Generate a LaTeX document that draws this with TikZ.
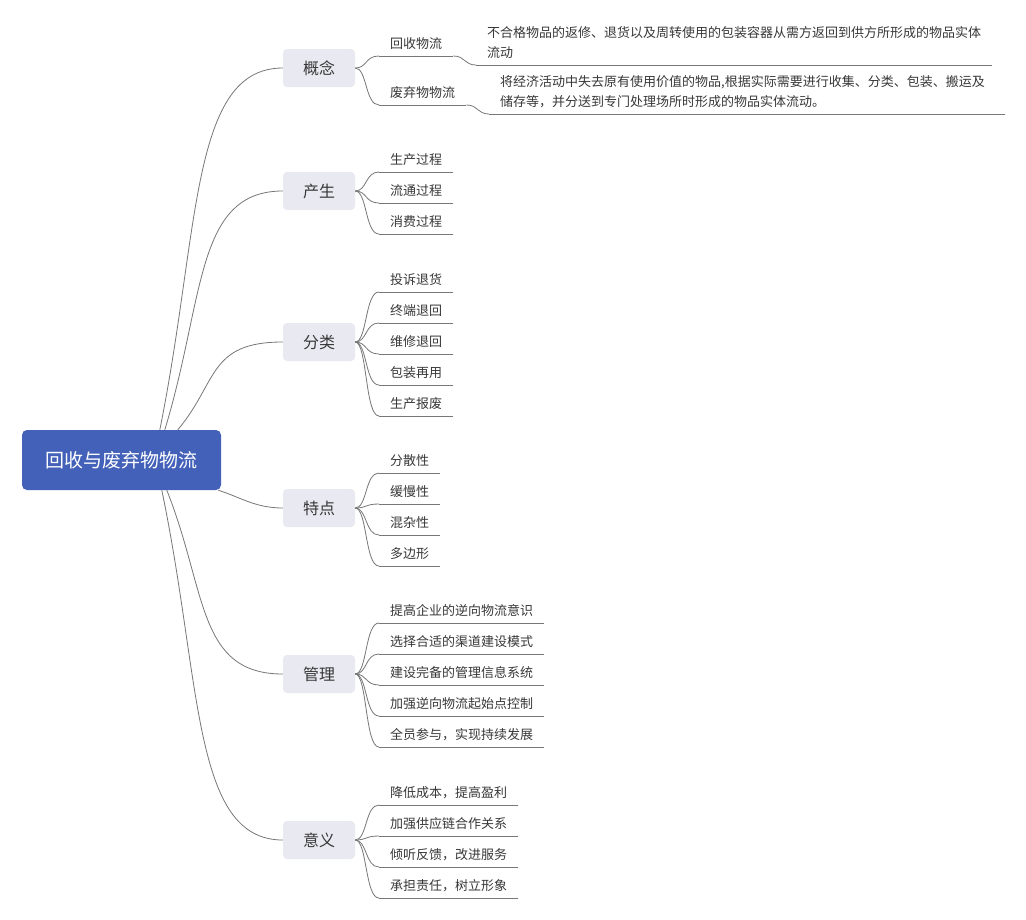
\documentclass[tikz,border=0pt]{standalone}
\usepackage{fontspec}
\newfontfamily\cjk{Noto Sans CJK SC}
\usetikzlibrary{backgrounds}
\definecolor{rootblue}{HTML}{4361B9}
\definecolor{branchbg}{HTML}{E9E9F1}
\definecolor{linegray}{HTML}{777777}
\definecolor{txt}{HTML}{383838}
\begin{document}
\begin{tikzpicture}[x=1pt,y=-1pt,
 rootnode/.style={fill=rootblue, rounded corners=5pt, minimum width=199pt, minimum height=60pt, text=white, font=\cjk\fontsize{19}{22}\selectfont, inner sep=0pt},
 branchnode/.style={fill=branchbg, rounded corners=4pt, minimum width=72pt, minimum height=38pt, text=txt, font=\cjk\fontsize{16}{20}\selectfont, inner sep=0pt},
 leafnode/.style={anchor=south west, inner xsep=11pt, inner ysep=7pt, text depth=0pt, text=txt, font=\cjk\fontsize{13}{20}\selectfont},
 descnode/.style={leafnode},
 conn/.style={draw=linegray, line width=0.8pt},
]
\useasboundingbox (0,0) rectangle (1026,919);

\node[rootnode] (root) at (121.5,460) {回收与废弃物物流};
\node[branchnode] (b1) at (319,68) {概念};
\node[branchnode] (b2) at (319,191) {产生};
\node[branchnode] (b3) at (319,342) {分类};
\node[branchnode] (b4) at (319,508) {特点};
\node[branchnode] (b5) at (319,674) {管理};
\node[branchnode] (b6) at (319,840) {意义};

\begin{scope}[on background layer]
\fill[white] (0,0) rectangle (1026,919);
\draw[conn] ([xshift=138pt]root.north west) .. controls (200,231) and (190,68) .. (b1.west);
\draw[conn] ([xshift=143pt]root.north west) .. controls (205,298) and (195,191) .. (b2.west);
\draw[conn] ([xshift=156pt]root.north west) .. controls (218,382) and (208,342) .. (b3.west);
\draw[conn] ([xshift=-3pt]root.south east) .. controls (240,497) and (255,508) .. (b4.west);
\draw[conn] ([xshift=145pt]root.south west) .. controls (207,591) and (197,674) .. (b5.west);
\draw[conn] ([xshift=140pt]root.south west) .. controls (202,683) and (192,840) .. (b6.west);
\end{scope}

% 概念
\node[leafnode] (a1) at (379,56) {回收物流};
\node[leafnode] (a2) at (379,105) {废弃物物流};
\draw[conn] (b1.east) .. controls +(12,0) and +(-14,0) .. (a1.south west);
\draw[conn] (b1.east) .. controls +(12,0) and +(-14,0) .. (a2.south west);
\draw[conn] (a1.south west) -- (a1.south east);
\draw[conn] (a2.south west) -- (a2.south east);
\node[descnode] (d1) at (476,65) {\parbox[b]{494pt}{\raggedright 不合格物品的返修、退货以及周转使用的包装容器从需方返回到供方所形成的物品实体\\流动}};
\node[descnode] (d2) at (489,114) {\parbox[b]{494pt}{\raggedright 将经济活动中失去原有使用价值的物品,根据实际需要进行收集、分类、包装、搬运及\\储存等，并分送到专门处理场所时形成的物品实体流动。}};
\draw[conn] (a1.south east) .. controls +(12,0) and +(-12,0) .. (d1.south west);
\draw[conn] (a2.south east) .. controls +(12,0) and +(-12,0) .. (d2.south west);
\draw[conn] (d1.south west) -- (d1.south east);
\draw[conn] (d2.south west) -- (d2.south east);

% 产生
\foreach \y/\t/\n in {172/生产过程/c1, 203/流通过程/c2, 234/消费过程/c3} {
  \node[leafnode] (\n) at (379,\y) {\t};
  \draw[conn] (b2.east) .. controls +(12,0) and +(-14,0) .. (\n.south west);
  \draw[conn] (\n.south west) -- (\n.south east);
}
% 分类
\foreach \y/\t/\n in {292/投诉退货/e1, 323/终端退回/e2, 354/维修退回/e3, 385/包装再用/e4, 416/生产报废/e5} {
  \node[leafnode] (\n) at (379,\y) {\t};
  \draw[conn] (b3.east) .. controls +(12,0) and +(-14,0) .. (\n.south west);
  \draw[conn] (\n.south west) -- (\n.south east);
}
% 特点
\foreach \y/\t/\n in {473/分散性/f1, 504/缓慢性/f2, 535/混杂性/f3, 566/多边形/f4} {
  \node[leafnode] (\n) at (379,\y) {\t};
  \draw[conn] (b4.east) .. controls +(12,0) and +(-14,0) .. (\n.south west);
  \draw[conn] (\n.south west) -- (\n.south east);
}
% 管理
\foreach \y/\t/\n in {623/提高企业的逆向物流意识/g1, 654/选择合适的渠道建设模式/g2, 685/建设完备的管理信息系统/g3, 716/加强逆向物流起始点控制/g4, 747/全员参与，实现持续发展/g5} {
  \node[leafnode] (\n) at (379,\y) {\t};
  \draw[conn] (b5.east) .. controls +(12,0) and +(-14,0) .. (\n.south west);
  \draw[conn] (\n.south west) -- (\n.south east);
}
% 意义
\foreach \y/\t/\n in {805/降低成本，提高盈利/h1, 836/加强供应链合作关系/h2, 867/倾听反馈，改进服务/h3, 898/承担责任，树立形象/h4} {
  \node[leafnode] (\n) at (379,\y) {\t};
  \draw[conn] (b6.east) .. controls +(12,0) and +(-14,0) .. (\n.south west);
  \draw[conn] (\n.south west) -- (\n.south east);
}
\end{tikzpicture}
\end{document}
